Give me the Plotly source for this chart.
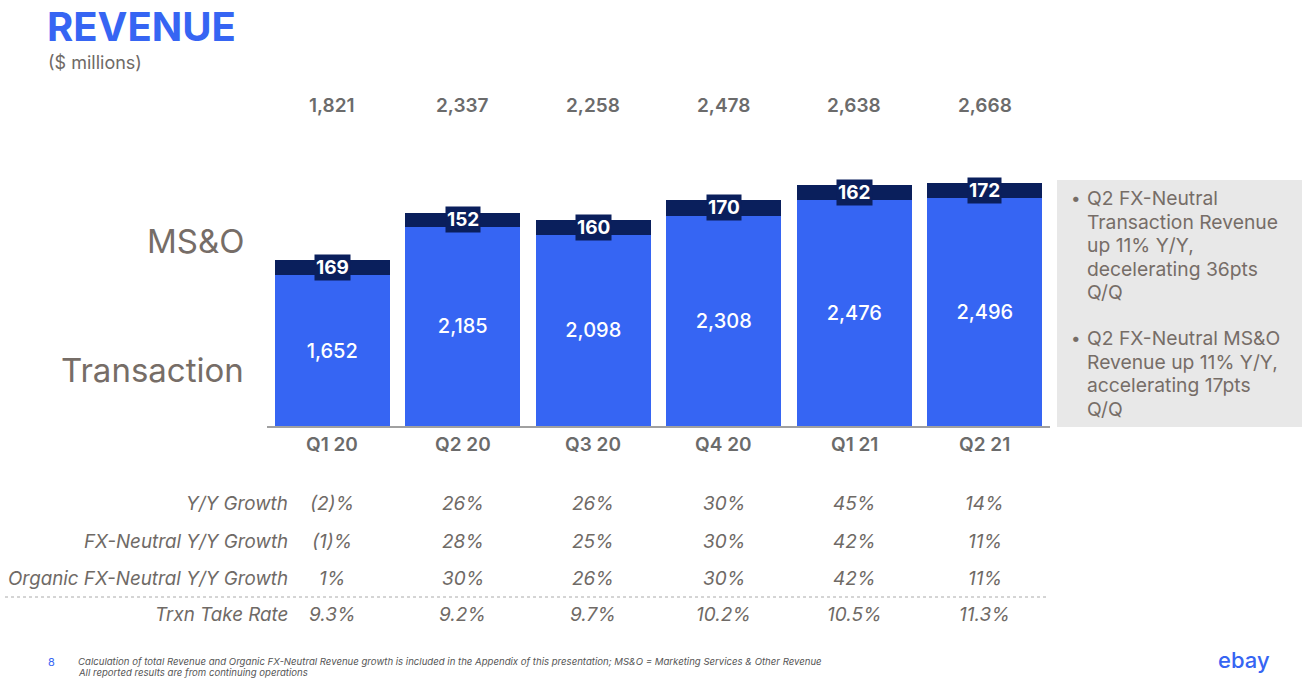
import plotly.graph_objects as go

quarters = ["Q1 20", "Q2 20", "Q3 20", "Q4 20", "Q1 21", "Q2 21"]
transaction = [1652, 2185, 2098, 2308, 2476, 2496]
mso = [169, 152, 160, 170, 162, 172]
yoy_growth = ["(2)%", "26%", "26%", "30%", "45%", "14%"]
fxn_growth = ["(1)%", "28%", "25%", "30%", "42%", "11%"]
org_fxn_growth = ["1%", "30%", "26%", "30%", "42%", "11%"]
take_rate = ["9.3%", "9.2%", "9.7%", "10.2%", "10.5%", "11.3%"]
row_labels = ["Y/Y Growth", "FX-Neutral Y/Y Growth", "Organic FX-Neutral Y/Y Growth", "Trxn Take Rate"]
bullets = [
    ["Q2 FX-Neutral", "Transaction Revenue", "up 11% Y/Y,", "decelerating 36pts", "Q/Q"],
    ["Q2 FX-Neutral MS&O", "Revenue up 11% Y/Y,", "accelerating 17pts", "Q/Q"],
]
footnotes = [
    "Calculation of total Revenue and Organic FX-Neutral Revenue growth is included in the Appendix of this presentation; MS&O = Marketing Services & Other Revenue",
    "All reported results are from continuing operations",
]
totals = [t + m for t, m in zip(transaction, mso)]

W, H = 1302, 683
L, R, T, B = 267, 252, 100, 257
PW, PH = W - L - R, H - T - B
YMAX = PH / 0.0912

def xp(px):
    return (px - L) / PW

def yp(py):
    return (H - B - py) / PH

FONT = "Inter"
BLUE = "#3665F3"
NAVY = "#0A1F5C"
GREY = "#6f6a66"
BROWN = "#766d67"

fig = go.Figure()
fig.add_trace(go.Bar(
    x=quarters, y=transaction, marker_color=BLUE, name="Transaction",
    text=[f"{v:,}" for v in transaction], textposition="inside",
    insidetextanchor="middle", textangle=0,
    textfont=dict(color="white", size=20, family=FONT, weight=500),
    marker_line_width=0, hoverinfo="skip",
))
fig.add_trace(go.Bar(
    x=quarters, y=mso, marker_color=NAVY, name="MS&O", marker_line_width=0,
    hoverinfo="skip",
))

ann = []
def txt(x, y, text, size, color, xref="paper", xanchor="center", **kw):
    ann.append(dict(x=x, y=y, xref=xref, yref="paper", text=text, showarrow=False,
                    xanchor=xanchor, yanchor="middle",
                    font=dict(color=color, size=size, family=FONT, **kw)))

for q, t, m, tot in zip(quarters, transaction, mso, totals):
    ann.append(dict(x=q, y=t + m / 2, xref="x", yref="y", text=f"<b>{m}</b>",
                    showarrow=False, bgcolor=NAVY, borderpad=1,
                    xanchor="center", yanchor="middle",
                    font=dict(color="white", size=19, family=FONT)))
    txt(q, yp(105), f"{tot:,}", 19, "#6b6b6b", xref="x", weight=600)
    txt(q, yp(445), q, 19, "#6b6b6b", xref="x", weight=600)

rows = [yoy_growth, fxn_growth, org_fxn_growth, take_rate]
row_y = [503, 541, 578, 614]
for lab, vals, ry in zip(row_labels, rows, row_y):
    txt(xp(290), yp(ry), f"<i>{lab}</i>", 18.8, GREY, xanchor="right")
    for q, v in zip(quarters, vals):
        txt(q, yp(ry), f"<i>{v}</i>", 19, GREY, xref="x")

# Title and side labels
txt(xp(45), yp(26.5), "<b>REVENUE</b>", 40, BLUE, xanchor="left")
txt(xp(46), yp(62), "($ millions)", 18, GREY, xanchor="left")
txt(xp(246), yp(241), "MS&O", 33, BROWN, xanchor="right")
txt(xp(246), yp(370), "Transaction", 33, BROWN, xanchor="right")

# Side box bullets
for lines, by in zip(bullets, [198, 338]):
    txt(xp(1069), yp(by), "•", 17, BROWN, xanchor="left")
    for i, line in enumerate(lines):
        txt(xp(1085), yp(by + 23.6 * i), line, 19.3, BROWN, xanchor="left")

# Footer
txt(xp(46), yp(662), "8", 11, BLUE, xanchor="left")
for i, fn in enumerate(footnotes):
    txt(xp(76), yp(661 + 11 * i), f"<i>{fn}</i>", 9.6, "#555555", xanchor="left")
txt(xp(1244), yp(660), "ebay", 22, BLUE, weight=500)

shapes = [
    dict(type="rect", xref="paper", yref="paper", x0=xp(1057), x1=xp(1302),
         y0=yp(427), y1=yp(180), fillcolor="#e8e8e8", line_width=0, layer="below"),
    dict(type="line", xref="paper", yref="paper", x0=xp(5), x1=xp(1048),
         y0=yp(597), y1=yp(597), line=dict(color="#aaaaaa", width=1, dash="dot")),
]

fig.update_layout(
    width=W, height=H, barmode="stack", bargap=0.12, showlegend=False,
    margin=dict(l=L, r=R, t=T, b=B, autoexpand=False),
    plot_bgcolor="white", paper_bgcolor="white",
    xaxis=dict(showticklabels=False, showline=True, linecolor="#a0a0a0", linewidth=1.5,
               ticks="", range=[-0.5, 5.5], fixedrange=True),
    yaxis=dict(visible=False, range=[0, YMAX], showgrid=False, zeroline=False),
    annotations=ann, shapes=shapes,
    font=dict(family=FONT),
    uniformtext=dict(minsize=10, mode="show"),
    hovermode=False,
)

fig.write_html("out.html", config={"displayModeBar": False},
               post_script="document.body.style.margin='0';")
